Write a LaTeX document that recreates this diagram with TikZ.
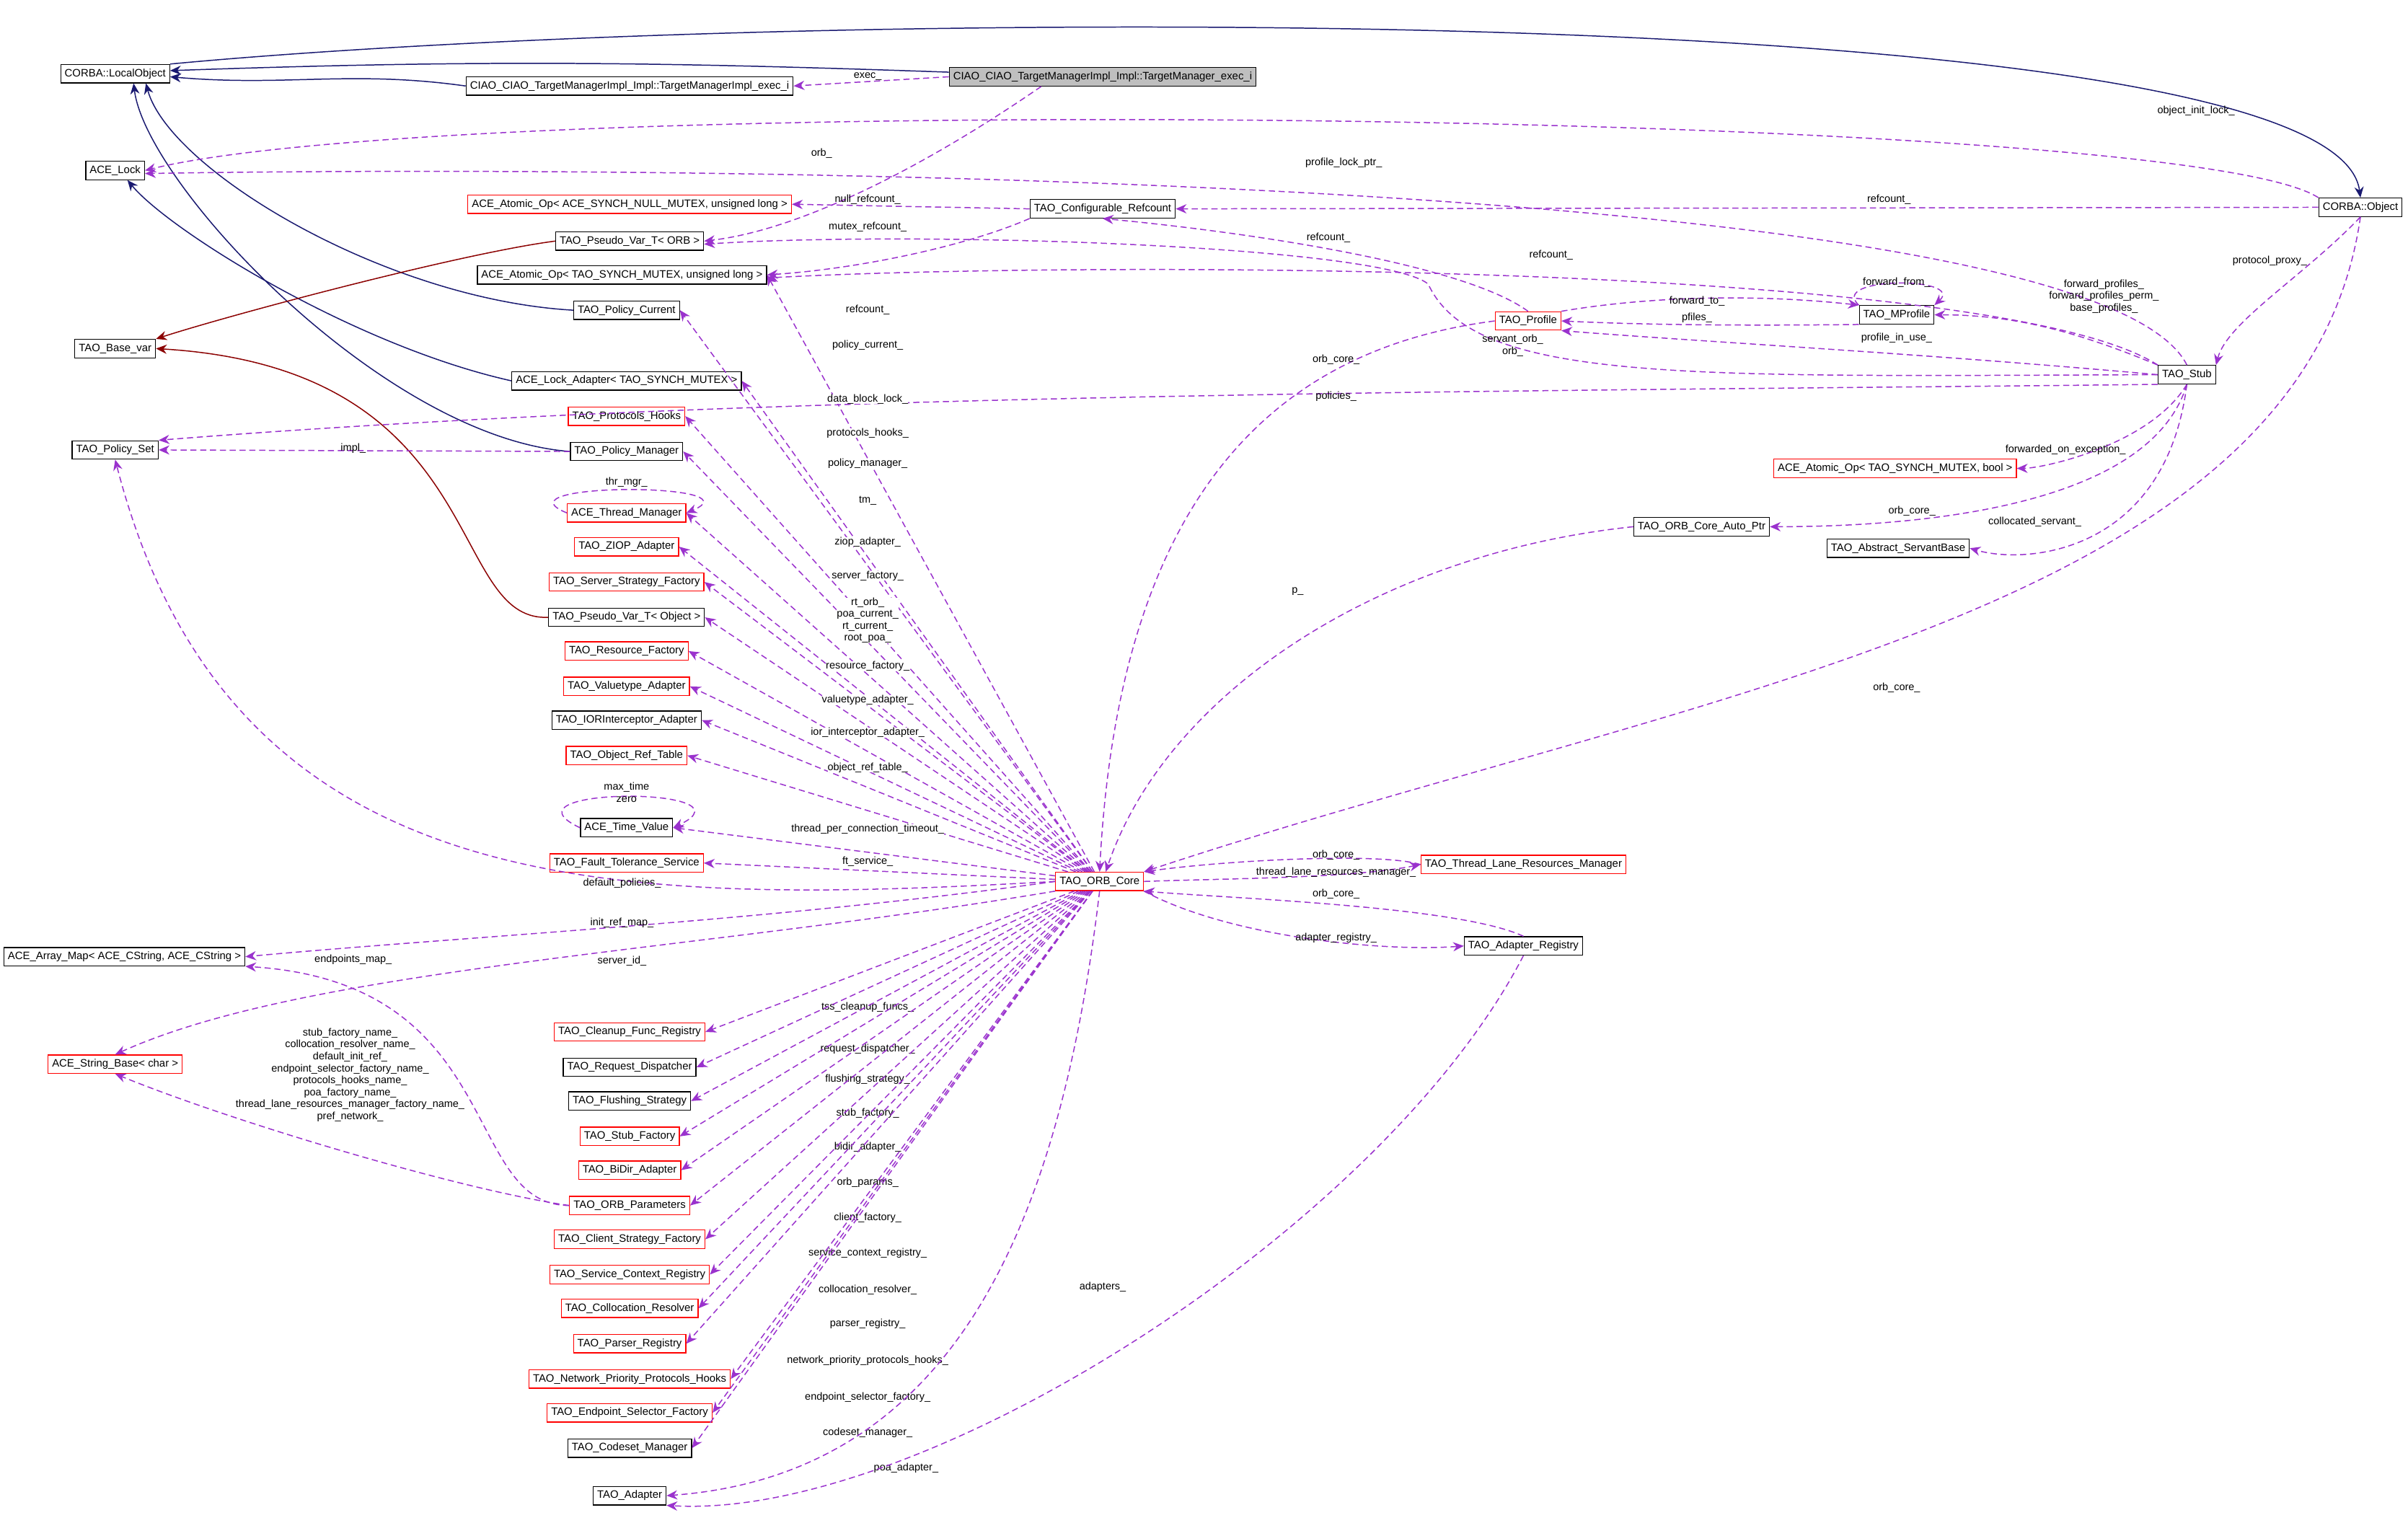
\documentclass[tikz,border=0pt]{standalone}
\usepackage{fontspec}
\setmainfont{Liberation Sans}
\usetikzlibrary{arrows.meta}
\definecolor{inhblue}{HTML}{191970}
\definecolor{tmplred}{HTML}{8B0000}
\definecolor{usepurple}{HTML}{9A32CD}
\tikzset{
    cls/.style={draw=black,line width=.3pt,fill=white,inner sep=1.3pt,minimum height=6pt,font=\fontsize{3.5}{4}\selectfont},
    redcls/.style={cls,draw=red},
    inh/.style={draw=inhblue,line width=.35pt,-{Stealth[length=3.5pt,width=3pt]}},
    tmpl/.style={draw=tmplred,line width=.35pt,-{Stealth[length=3.5pt,width=3pt]}},
    use/.style={draw=usepurple,line width=.35pt,dashed,dash pattern=on 2pt off 1.2pt,-{Stealth[length=3.5pt,width=3pt]}},
    lbl/.style={font=\fontsize{3.4}{3.9}\selectfont,align=center,inner sep=0pt}
}
\begin{document}
\begin{tikzpicture}[x=0.5pt,y=-0.5pt]
    \useasboundingbox (0,0) rectangle (1568,1000);
%
    % classes at the top and on the left
    \node[cls] (lobj) at (75,48) {CORBA::LocalObject};
    \node[cls] (tmimpl) at (410,56) {CIAO\_CIAO\_TargetManagerImpl\_Impl::TargetManagerImpl\_exec\_i};
    \node[cls,fill=black!25] (tmexec) at (718,50) {CIAO\_CIAO\_TargetManagerImpl\_Impl::TargetManager\_exec\_i};
    \node[cls] (acelock) at (75,111) {ACE\_Lock};
    \node[redcls] (aonull) at (410,133) {ACE\_Atomic\_Op< ACE\_SYNCH\_NULL\_MUTEX, unsigned long >};
    \node[cls] (cfgref) at (718,136) {TAO\_Configurable\_Refcount};
    \node[cls] (cobj) at (1537,135) {CORBA::Object};
    \node[cls] (pvorb) at (410,157) {TAO\_Pseudo\_Var\_T< ORB >};
    \node[cls] (aoul) at (405,179) {ACE\_Atomic\_Op< TAO\_SYNCH\_MUTEX, unsigned long >};
    \node[cls] (basevar) at (75,227) {TAO\_Base\_var};
    \node[cls] (polcur) at (408,202) {TAO\_Policy\_Current};
    \node[redcls] (profile) at (995,209) {TAO\_Profile};
    \node[cls] (mprofile) at (1235,205) {TAO\_MProfile};
    \node[cls] (stub) at (1424,244) {TAO\_Stub};
    \node[cls] (lockad) at (408,248) {ACE\_Lock\_Adapter< TAO\_SYNCH\_MUTEX >};
    \node[cls] (polset) at (75,293) {TAO\_Policy\_Set};
    \node[redcls] (prhooks) at (408,271) {TAO\_Protocols\_Hooks};
    \node[cls] (polmgr) at (408,294) {TAO\_Policy\_Manager};
    \node[redcls] (thrmgr) at (408,334) {ACE\_Thread\_Manager};
    \node[redcls] (aobool) at (1234,305) {ACE\_Atomic\_Op< TAO\_SYNCH\_MUTEX, bool >};
    \node[cls] (autoptr) at (1108,343) {TAO\_ORB\_Core\_Auto\_Ptr};
    \node[cls] (servbase) at (1236,357) {TAO\_Abstract\_ServantBase};
    \node[redcls] (ziop) at (408,356) {TAO\_ZIOP\_Adapter};
    \node[redcls] (srvfac) at (408,379) {TAO\_Server\_Strategy\_Factory};
    \node[cls] (pvobj) at (408,402) {TAO\_Pseudo\_Var\_T< Object >};
    \node[redcls] (resfac) at (408,424) {TAO\_Resource\_Factory};
    \node[redcls] (valad) at (408,447) {TAO\_Valuetype\_Adapter};
    \node[cls] (iorad) at (408,469) {TAO\_IORInterceptor\_Adapter};
    \node[redcls] (objref) at (408,492) {TAO\_Object\_Ref\_Table};
    \node[cls] (timeval) at (408,539) {ACE\_Time\_Value};
    \node[redcls] (ftsvc) at (408,562) {TAO\_Fault\_Tolerance\_Service};
    \node[redcls] (core) at (716,574) {TAO\_ORB\_Core};
    \node[redcls] (tlrm) at (992,563) {TAO\_Thread\_Lane\_Resources\_Manager};
    \node[cls] (adreg) at (992,616) {TAO\_Adapter\_Registry};
    \node[cls] (arrmap) at (81,623) {ACE\_Array\_Map< ACE\_CString, ACE\_CString >};
    \node[redcls] (strbase) at (75,693) {ACE\_String\_Base< char >};
    \node[redcls] (cleanup) at (410,672) {TAO\_Cleanup\_Func\_Registry};
    \node[cls] (reqdisp) at (410,695) {TAO\_Request\_Dispatcher};
    \node[cls] (flush) at (410,717) {TAO\_Flushing\_Strategy};
    \node[redcls] (stubfac) at (410,740) {TAO\_Stub\_Factory};
    \node[redcls] (bidir) at (410,762) {TAO\_BiDir\_Adapter};
    \node[redcls] (orbparams) at (410,785) {TAO\_ORB\_Parameters};
    \node[redcls] (clifac) at (410,807) {TAO\_Client\_Strategy\_Factory};
    \node[redcls] (sctx) at (410,830) {TAO\_Service\_Context\_Registry};
    \node[redcls] (colres) at (410,852) {TAO\_Collocation\_Resolver};
    \node[redcls] (parser) at (410,875) {TAO\_Parser\_Registry};
    \node[redcls] (netprio) at (410,898) {TAO\_Network\_Priority\_Protocols\_Hooks};
    \node[redcls] (epsel) at (410,920) {TAO\_Endpoint\_Selector\_Factory};
    \node[cls] (codeset) at (410,943) {TAO\_Codeset\_Manager};
    \node[cls] (adapter) at (410,974) {TAO\_Adapter};
%
    % inheritance
    \draw[inh] (tmimpl.west) to[out=172,in=-5] ([yshift=-1pt]lobj.east);
    \draw[inh] ([yshift=1.5pt]tmexec.west) to[out=178,in=2] ([yshift=1pt]lobj.east);
    \draw[inh] (lobj.north east) .. controls (500,5) and (1520,-5) .. (cobj.north);
    \draw[inh] (polcur.west) .. controls (250,195) and (110,110) .. ([xshift=10pt]lobj.south);
    \draw[inh] (polmgr.west) .. controls (250,285) and (95,120) .. ([xshift=6pt]lobj.south);
    \draw[inh] (lockad.west) .. controls (230,225) and (110,150) .. ([xshift=4pt]acelock.south);
    \draw[tmpl] (pvorb.west) .. controls (300,165) and (150,205) .. (basevar.north east);
    \draw[tmpl] (pvobj.west) .. controls (290,405) and (320,240) .. (basevar.east);
%
    % members of the top classes
    \draw[use] (tmexec.west) -- (tmimpl.east);
    \node[lbl] at (565,50) {exec\_};
    \draw[use] ([xshift=-20pt]tmexec.south) .. controls (600,110) and (520,150) .. (pvorb.east);
    \node[lbl] at (535,100) {orb\_};
    \draw[use] (cobj.north west) .. controls (1420,70) and (300,60) .. (acelock.east);
    \node[lbl] at (1430,72) {object\_init\_lock\_};
    \draw[use] (stub.north) .. controls (1360,110) and (400,108) .. ([yshift=-1pt]acelock.east);
    \node[lbl] at (875,106) {profile\_lock\_ptr\_};
    \draw[use] (cfgref.west) -- (aonull.east);
    \node[lbl] at (565,130) {null\_refcount\_};
    \draw[use] (cfgref.south west) .. controls (630,160) and (560,175) .. (aoul.east);
    \node[lbl] at (565,148) {mutex\_refcount\_};
    \draw[use] (cobj.west) -- (cfgref.east);
    \node[lbl] at (1230,130) {refcount\_};
    \draw[use] (profile.north) .. controls (950,170) and (800,150) .. (cfgref.south);
    \node[lbl] at (865,155) {refcount\_};
    \draw[use] (stub.north west) .. controls (1300,170) and (700,170) .. ([yshift=-1pt]aoul.east);
    \node[lbl] at (1010,166) {refcount\_};
    \draw[use] (stub.west) .. controls (1100,245) and (960,250) .. (930,185) .. controls (900,160) and (600,150) .. ([yshift=-1pt]pvorb.east);
    \node[lbl] at (985,225) {servant\_orb\_\\orb\_};
    \draw[use] (cobj.south) .. controls (1500,180) and (1450,210) .. (stub.north east);
    \node[lbl] at (1478,170) {protocol\_proxy\_};
    \draw[use] (profile.north east) .. controls (1080,192) and (1150,192) .. (mprofile.north west);
    \node[lbl] at (1105,196) {forward\_to\_};
    \draw[use] (mprofile.south west) .. controls (1150,212) and (1080,212) .. (profile.east);
    \node[lbl] at (1105,207) {pfiles\_};
    \draw[use] (mprofile.north west) .. controls (1190,180) and (1280,180) .. (mprofile.north east);
    \node[lbl] at (1235,184) {forward\_from\_};
    \draw[use] (stub.north west) .. controls (1350,215) and (1310,205) .. (mprofile.east);
    \node[lbl] at (1370,193) {forward\_profiles\_\\forward\_profiles\_perm\_\\base\_profiles\_};
    \draw[use] (stub.west) .. controls (1250,230) and (1100,222) .. (profile.south east);
    \node[lbl] at (1235,220) {profile\_in\_use\_};
    \draw[use] (profile.west) .. controls (850,225) and (730,300) .. (core.north);
    \node[lbl] at (870,234) {orb\_core\_};
    \draw[use] (stub.south west) .. controls (1000,255) and (500,255) .. (polset.north east);
    \node[lbl] at (870,258) {policies\_};
    \draw[use] (stub.south) .. controls (1400,290) and (1330,305) .. (aobool.east);
    \node[lbl] at (1345,293) {forwarded\_on\_exception\_};
    \draw[use] (stub.south) .. controls (1400,330) and (1250,343) .. (autoptr.east);
    \node[lbl] at (1245,333) {orb\_core\_};
    \draw[use] (stub.south) .. controls (1410,360) and (1320,368) .. (servbase.east);
    \node[lbl] at (1325,340) {collocated\_servant\_};
    \draw[use] (autoptr.west) .. controls (900,360) and (760,450) .. ([xshift=2pt]core.north);
    \node[lbl] at (845,385) {p\_};
    \draw[use] (cobj.south) .. controls (1500,400) and (1100,450) .. (core.north east);
    \node[lbl] at (1235,448) {orb\_core\_};
    \draw[use] (polmgr.west) -- (polset.east);
    \node[lbl] at (230,292) {impl\_};
    \draw[use] (thrmgr.west) .. controls (320,314) and (495,314) .. (thrmgr.east);
    \node[lbl] at (408,314) {thr\_mgr\_};
    \draw[use] (timeval.west) .. controls (320,512) and (495,512) .. (timeval.east);
    \node[lbl] at (408,516) {max\_time\\zero};
%
    % members of the ORB core, upper side
    \foreach \tgt/\ly/\lbl in {%
        aoul/202/refcount\_,%
        polcur/225/policy\_current\_,%
        lockad/260/data\_block\_lock\_,%
        prhooks/282/protocols\_hooks\_,%
        polmgr/302/policy\_manager\_,%
        thrmgr/326/tm\_,%
        ziop/353/ziop\_adapter\_,%
        srvfac/375/server\_factory\_,%
        pvobj/404/{rt\_orb\_\\poa\_current\_\\rt\_current\_\\root\_poa\_},%
        resfac/434/resource\_factory\_,%
        valad/456/valuetype\_adapter\_,%
        iorad/477/ior\_interceptor\_adapter\_,%
        objref/500/object\_ref\_table\_,%
        timeval/540/thread\_per\_connection\_timeout\_,%
        ftsvc/561/ft\_service\_%
    }{
        \draw[use] (core) -- (\tgt.east);
        \node[lbl,fill=white] at (565,\ly) {\lbl};
    } % \foreach \tgt
%
    % members of the ORB core, lower side
    \foreach \tgt/\ly/\lbl in {%
        cleanup/656/tss\_cleanup\_funcs\_,%
        reqdisp/683/request\_dispatcher\_,%
        flush/703/flushing\_strategy\_,%
        stubfac/725/stub\_factory\_,%
        bidir/747/bidir\_adapter\_,%
        orbparams/770/orb\_params\_,%
        clifac/793/client\_factory\_,%
        sctx/816/service\_context\_registry\_,%
        colres/840/collocation\_resolver\_,%
        parser/862/parser\_registry\_,%
        netprio/886/network\_priority\_protocols\_hooks\_,%
        epsel/910/endpoint\_selector\_factory\_,%
        codeset/933/codeset\_manager\_%
    }{
        \draw[use] (core) -- (\tgt.east);
        \node[lbl,fill=white] at (565,\ly) {\lbl};
    } % \foreach \tgt
    \draw[use] (core.south) .. controls (690,800) and (620,960) .. (adapter.east);
    \node[lbl] at (590,956) {poa\_adapter\_};
%
    % members of the ORB core, left side
    \draw[use] (core.west) .. controls (400,590) and (150,590) .. (polset.south);
    \node[lbl] at (405,575) {default\_policies\_};
    \draw[use] (core.west) .. controls (500,600) and (300,610) .. (arrmap.east);
    \node[lbl] at (405,601) {init\_ref\_map\_};
    \draw[use] (core.south west) .. controls (450,620) and (200,630) .. (strbase.north);
    \node[lbl] at (405,626) {server\_id\_};
    \draw[use] (orbparams.west) .. controls (300,785) and (330,640) .. (arrmap.south east);
    \node[lbl] at (230,625) {endpoints\_map\_};
    \draw[use] (orbparams.west) .. controls (300,775) and (150,730) .. (strbase.south);
    \node[lbl] at (228,700) {stub\_factory\_name\_\\collocation\_resolver\_name\_\\default\_init\_ref\_\\endpoint\_selector\_factory\_name\_\\protocols\_hooks\_name\_\\poa\_factory\_name\_\\thread\_lane\_resources\_manager\_factory\_name\_\\pref\_network\_};
%
    % members of the ORB core, right side
    \draw[use] (tlrm.west) .. controls (900,555) and (800,560) .. (core.north east);
    \node[lbl] at (870,557) {orb\_core\_};
    \draw[use] (core.east) .. controls (800,572) and (880,572) .. (tlrm.west);
    \node[lbl] at (870,568) {thread\_lane\_resources\_manager\_};
    \draw[use] (adreg.north) .. controls (950,590) and (800,585) .. (core.south east);
    \node[lbl] at (870,582) {orb\_core\_};
    \draw[use] (core.south east) .. controls (800,610) and (900,620) .. (adreg.west);
    \node[lbl] at (870,611) {adapter\_registry\_};
    \draw[use] (adreg.south) .. controls (900,800) and (600,990) .. (adapter.south east);
    \node[lbl] at (718,838) {adapters\_};
\end{tikzpicture}
\end{document}
